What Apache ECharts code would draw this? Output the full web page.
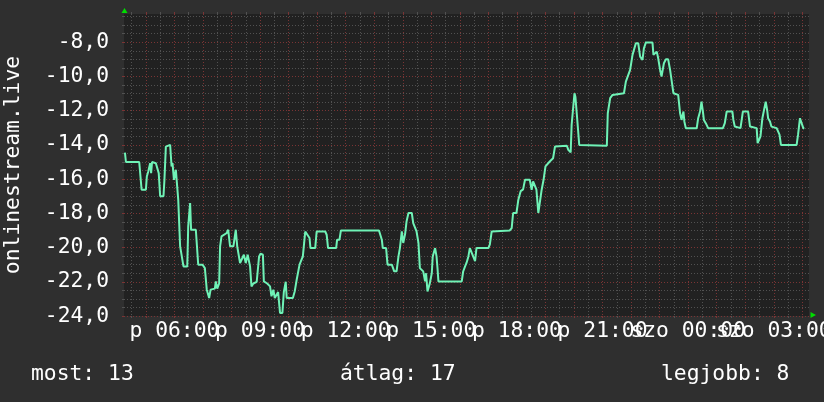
<!DOCTYPE html>
<html><head><meta charset="utf-8">
<script src="https://cdn.jsdelivr.net/npm/echarts@6/dist/echarts.min.js"></script>
<style>html,body{margin:0;padding:0;background:#2f2f2f}#c{width:824px;height:402px}</style>
</head><body><div id="c"></div>
<script>
// ---- data (minutes since Friday 00:00) ----
const minutes = [256,258,286,291,300,302,305,309,311,313,321,327,330,337,339,342,351,354,356,359,363,365,368,372,376,379,387,389,393,395,405,410,419,424,428,433,436,445,447,450,454,456,459,470,473,477,484,489,492,498,501,506,510,514,519,522,526,533,538,541,546,548,555,561,564,568,571,575,578,582,587,590,594,596,609,613,617,623,630,635,639,644,646,656,659,677,680,683,700,702,707,710,790,796,798,805,808,817,822,827,831,834,838,841,845,848,852,859,862,866,869,873,876,880,883,887,889,892,895,897,901,903,908,911,913,915,964,967,971,974,978,981,985,988,992,995,1020,1023,1027,1065,1069,1072,1079,1083,1088,1093,1097,1107,1111,1114,1118,1121,1125,1129,1132,1136,1140,1144,1149,1156,1160,1185,1188,1193,1195,1198,1201,1203,1206,1208,1211,1269,1271,1276,1281,1305,1309,1313,1318,1323,1326,1330,1335,1339,1344,1347,1351,1365,1367,1370,1374,1377,1381,1384,1389,1393,1398,1402,1405,1409,1412,1419,1423,1426,1430,1432,1435,1458,1461,1465,1468,1471,1473,1477,1482,1513,1517,1521,1533,1535,1538,1550,1555,1566,1570,1584,1586,1590,1592,1596,1599,1603,1606,1608,1612,1615,1626,1632,1635,1668,1671,1675,1679,1682,1684];
const values = [-14.45,-15,-15,-16.62,-16.62,-15.85,-15.55,-15.07,-15.65,-15,-15.07,-15.65,-17,-17,-16.04,-14.1,-14,-15.26,-15.07,-16.04,-15.45,-15.45,-17.2,-19.93,-20.03,-21.1,-21.1,-18.76,-17.4,-18.96,-18.96,-21,-21,-21.2,-22.46,-22.95,-22.46,-22.4,-21.98,-22.4,-22.1,-19.93,-19.35,-19.15,-18.96,-19.93,-19.93,-18.96,-19.93,-20.9,-20.9,-20.42,-20.9,-20.42,-21.1,-22.27,-22.1,-22,-20.52,-20.36,-20.42,-21.98,-22.1,-22.27,-22.85,-22.46,-22.95,-23,-22.6,-23.82,-23.82,-22.6,-22,-22.95,-22.95,-22.55,-21.88,-21,-20.52,-19.06,-19,-19.44,-20.03,-20.03,-19.06,-19.06,-19.25,-20.03,-20.03,-19.54,-19.54,-19,-19,-19.54,-20.03,-20.03,-21,-21,-21.39,-21.39,-20.52,-20.03,-19.06,-19.73,-19.2,-18.47,-17.98,-17.98,-18.57,-18.57,-19.06,-19.73,-21.2,-21.3,-21.39,-21.98,-21.5,-22.56,-22.56,-22.08,-21.5,-20.52,-20.03,-20.52,-21.2,-21.98,-21.98,-21.4,-21.1,-20.9,-20.52,-20.03,-20.03,-20.52,-20.8,-20.03,-20.03,-19.83,-19.06,-19,-18.86,-17.98,-17.98,-17.2,-16.7,-16.6,-16.04,-16.04,-16.62,-16.13,-16.13,-16.62,-17.98,-17.98,-16.62,-16.04,-15.26,-15.15,-14.97,-14.78,-14.1,-14.05,-14.29,-14.44,-12.83,-12.73,-10.98,-11.2,-12.24,-12.3,-14,-14.05,-12.15,-11.27,-11.08,-10.98,-10.3,-10,-9.62,-8.74,-8.65,-8.06,-8.06,-8.84,-9.03,-8.35,-8.02,-8.02,-8.74,-8.65,-8.55,-8.94,-9.62,-10,-9.23,-9,-9,-9.62,-10.2,-10.98,-10.98,-11.08,-12.15,-12.54,-12.05,-12.63,-13.02,-13.02,-12.44,-12.05,-11.47,-12.05,-12.54,-12.73,-13.02,-13.02,-12.73,-12.05,-12.05,-12.54,-12.93,-13.02,-12.05,-12.05,-12.93,-13.02,-13.9,-14,-13.5,-12.44,-12.34,-11.47,-11.96,-12.44,-12.63,-12.93,-13.02,-13.4,-14,-14,-13.4,-12.44,-12.34,-13.02,-13.05];

const xLabelMinutes = [360,540,720,900,1080,1260,1440,1620];
const xLabelTexts = ['p 06:00','p 09:00','p 12:00','p 15:00','p 18:00','p 21:00','szo 00:00','szo 03:00'];
const yLabelValues = [-24,-22,-20,-18,-16,-14,-12,-10,-8];
const xStart = 254, xEnd = 1694;
const yMin = -24, yMax = -6.35;
const axisTitle = 'onlinestream.live';
const footerTexts = ['most: 13', 'átlag: 17', 'legjobb: 8'];

// ---- layout / style ----
const G = {left:124, top:14, width:685, height:302};
const FONT = '"DejaVu Sans Mono", monospace';
const FS = 21.33;
const TXT = '#ffffff';
const MAJOR = '#7a3434';
const MINOR = '#515151';
const LINE = '#6ff2b6';
const ARROW = '#00dd00';

const majorX = [], minorX = [], majorY = [], minorY = [];
for (let m = 0; m <= xEnd; m += 30) {
  if (m < xStart) continue;
  if (m % 60 === 0) majorX.push(m); else minorX.push(m);
}
for (let k = -48; k / 2 <= yMax; k++) {
  if (k % 4 === 0) majorY.push(k / 2); else minorY.push(k / 2);
}
// labels split over two axes so that the overlapping neighbours are all drawn
const labelsA = xLabelMinutes.filter((_, i) => i % 2 === 0);
const labelsB = xLabelMinutes.filter((_, i) => i % 2 === 1);

function xAxisDef(pos, ticks, color, labelVals, split) {
  return {
    type:'value', min:xStart, max:xEnd, position:pos, gridIndex:0,
    axisLine:{show:false},
    axisTick:{show:!!ticks, customValues:ticks || [xStart], length:2, lineStyle:{color:color}},
    axisLabel: labelVals ? {
      show:true, customValues:labelVals, margin:5, showMinLabel:true, showMaxLabel:true,
      hideOverlap:false,
      fontFamily:FONT, fontSize:FS, color:TXT,
      formatter: v => xLabelTexts[xLabelMinutes.indexOf(v)] || ''
    } : {show:false},
    splitLine:{show:split, lineStyle:{color:color, width:1, type:[1,2]}}
  };
}
function yAxisDef(pos, ticks, color, withLabels, split) {
  return {
    type:'value', min:yMin, max:yMax, position:pos, gridIndex:0,
    axisLine:{show:false},
    axisTick:{show:true, customValues:ticks, length:2, lineStyle:{color:color}},
    axisLabel: withLabels ? {
      show:true, customValues:yLabelValues, margin:15, showMinLabel:true, showMaxLabel:true,
      fontFamily:FONT, fontSize:FS, color:TXT,
      formatter: v => v.toFixed(1).replace('.', ',')
    } : {show:false},
    splitLine:{show:split, lineStyle:{color:color, width:1, type:[1,2]}}
  };
}

const chart = echarts.init(document.getElementById('c'), null, {renderer:'canvas'});
const gl = G.left, gt = G.top, gr = G.left + G.width, gb = G.top + G.height;
const font = FS + 'px ' + FONT;
chart.setOption({
  backgroundColor:'#2f2f2f',
  animation:false,
  grid:[{left:G.left, top:G.top, width:G.width, height:G.height, show:true,
         backgroundColor:'#212121', borderWidth:0, containLabel:false, outerBoundsMode:'none'}],
  xAxis:[
    xAxisDef('bottom', majorX, MAJOR, labelsA, true),
    xAxisDef('bottom', minorX, MINOR, null, true),
    xAxisDef('top', majorX, MAJOR, null, false),
    xAxisDef('top', minorX, MINOR, null, false),
    xAxisDef('bottom', null, MAJOR, labelsB, false)
  ],
  yAxis:[
    yAxisDef('left', majorY, MAJOR, true, true),
    yAxisDef('left', minorY, MINOR, false, true)
  ],
  series:[{
    type:'line', xAxisIndex:0, yAxisIndex:0, showSymbol:false, symbol:'none',
    lineStyle:{color:LINE, width:2}, z:10,
    data: minutes.map((m, i) => [m, values[i]])
  }],
  graphic:[
    {type:'text', x:13, y:(gt+gb)/2, rotation:Math.PI/2,
     style:{text:axisTitle, fill:TXT, font:font, align:'center', verticalAlign:'middle'}},
    {type:'text', x:31, y:374, style:{text:footerTexts[0], fill:TXT, font:font, align:'left', verticalAlign:'middle'}},
    {type:'text', x:340, y:374, style:{text:footerTexts[1], fill:TXT, font:font, align:'left', verticalAlign:'middle'}},
    {type:'text', x:661, y:374, style:{text:footerTexts[2], fill:TXT, font:font, align:'left', verticalAlign:'middle'}},
    {type:'polygon', shape:{points:[[gl-2.5, gt-1],[gl+3.5, gt-1],[gl+0.5, gt-6]]}, style:{fill:ARROW}},
    {type:'polygon', shape:{points:[[gr+1.5, gb-4],[gr+1.5, gb+2],[gr+7, gb-1]]}, style:{fill:ARROW}}
  ]
});
</script></body></html>
